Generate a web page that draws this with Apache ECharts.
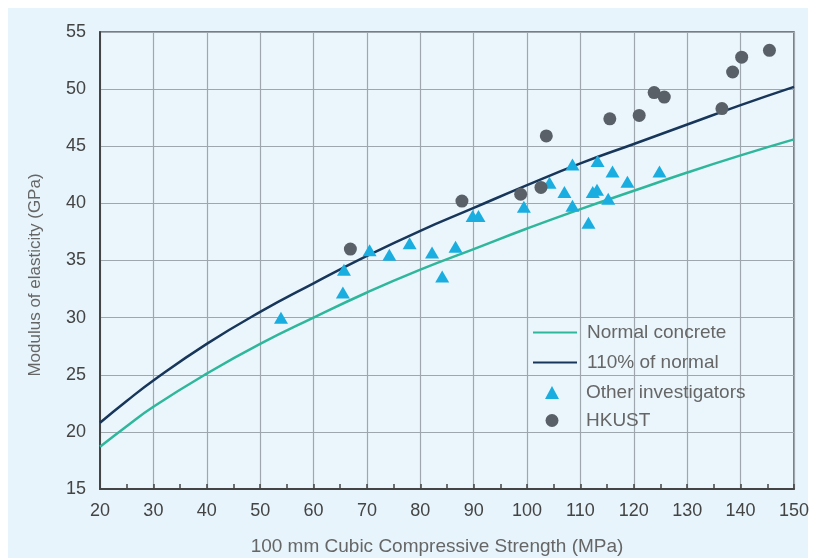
<!DOCTYPE html>
<html>
<head>
<meta charset="utf-8">
<script src="https://cdn.jsdelivr.net/npm/echarts@6/dist/echarts.min.js"></script>
<style>
html,body{margin:0;padding:0;background:#fff;}
#chart{width:817px;height:558px;}
</style>
</head>
<body>
<div id="chart"></div>
<script>
// Curve sample positions (MPa) and values (GPa)
var curveX = [20, 25, 30, 40, 50, 60, 70, 80, 90, 100, 110, 120, 130, 140, 150];
var normalConcrete = [18.7, 20.5, 22.2, 25.1, 27.7, 30.0, 32.2, 34.2, 36.0, 37.8, 39.5, 41.1, 42.7, 44.2, 45.6];
var normal110 = [20.8, 22.7, 24.5, 27.7, 30.5, 33.0, 35.4, 37.6, 39.6, 41.6, 43.5, 45.2, 46.9, 48.6, 50.2];

// Other investigators: strength (MPa), modulus (GPa)
var otherX = [53.9, 65.5, 65.7, 70.5, 74.2, 78.0, 82.2, 84.1, 86.6, 89.8, 90.9, 99.4, 104.2, 107.0, 108.5, 108.5, 111.5, 112.3, 113.1, 113.2, 115.2, 116.0, 118.8, 124.8];
var otherY = [30.0, 32.2, 34.2, 35.9, 35.5, 36.5, 35.7, 33.6, 36.2, 38.9, 38.9, 39.7, 41.8, 41.0, 43.4, 39.8, 38.3, 41.0, 41.2, 43.7, 40.4, 42.8, 41.9, 42.8];

// HKUST: strength (MPa), modulus (GPa)
var hkustX = [66.9, 87.8, 98.8, 102.6, 103.6, 115.5, 121.0, 123.8, 125.7, 136.5, 138.5, 140.2, 145.4];
var hkustY = [36.0, 40.2, 40.8, 41.4, 45.9, 47.4, 47.7, 49.7, 49.3, 48.3, 51.5, 52.8, 53.4];

var seriesNames = ['Normal concrete', '110% of normal', 'Other investigators', 'HKUST'];

function zip(a, b) { return a.map(function (v, i) { return [v, b[i]]; }); }

var chart = echarts.init(document.getElementById('chart'), null, {renderer: 'canvas'});
var FONT = '"Liberation Sans", Arial, sans-serif';
var labelFont = {fontFamily: FONT, fontSize: 18, color: '#444'};
var legendText = {fontFamily: FONT, fontSize: 19, color: '#666'};

chart.setOption({
  backgroundColor: '#ffffff',
  animation: false,
  graphic: [
    {type: 'rect', z: -10, silent: true, shape: {x: 8, y: 8, width: 800, height: 550}, style: {fill: '#e7f4fb'}},
    {type: 'text', z: 10, silent: true, x: 35, y: 275, rotation: Math.PI / 2,
      style: {text: 'Modulus of elasticity (GPa)', fill: '#666', font: '17px ' + FONT, align: 'center', verticalAlign: 'middle'}},
    {type: 'text', z: 10, silent: true, x: 437, y: 547,
      style: {text: '100 mm Cubic Compressive Strength (MPa)', fill: '#666', font: '19px ' + FONT, align: 'center', verticalAlign: 'middle'}}
  ],
  grid: {
    left: 100, right: 23, top: 32, bottom: 69,
    show: true, backgroundColor: '#eaf6fc', borderColor: '#555', borderWidth: 1.5
  },
  legend: [
    {
      orient: 'vertical', left: 532, top: 323, padding: 0,
      itemWidth: 44, itemHeight: 14, itemGap: 11,
      textStyle: Object.assign({padding: [0, 0, 0, 5]}, legendText),
      data: [
        {name: seriesNames[0], itemStyle: {opacity: 0}},
        {name: seriesNames[1], itemStyle: {opacity: 0}}
      ]
    },
    {
      orient: 'vertical', left: 545, top: 383, padding: 0,
      itemWidth: 14, itemHeight: 13, itemGap: 9,
      textStyle: Object.assign({padding: [0, 0, 0, 22]}, legendText),
      data: [
        {name: seriesNames[2], icon: 'triangle'},
        {name: seriesNames[3], icon: 'circle'}
      ]
    }
  ],
  xAxis: {
    type: 'value', min: 20, max: 150, interval: 10,
    axisLine: {show: true, onZero: false, lineStyle: {color: '#444', width: 2}},
    axisTick: {show: true, inside: true, length: 5, lineStyle: {color: '#444', width: 1.5}},
    minorTick: {show: true, splitNumber: 2, length: 5, lineStyle: {color: '#444', width: 1.5}},
    axisLabel: Object.assign({margin: 13}, labelFont),
    splitLine: {show: true, lineStyle: {color: '#9ea7ad', width: 1.2}}
  },
  yAxis: {
    type: 'value', min: 15, max: 55, interval: 5,
    axisLine: {show: true, onZero: false, lineStyle: {color: '#444', width: 2}},
    axisTick: {show: false},
    axisLabel: Object.assign({margin: 14}, labelFont),
    splitLine: {show: true, lineStyle: {color: '#9ea7ad', width: 1.2}}
  },
  series: [
    {
      name: seriesNames[0], type: 'line', smooth: true, symbol: 'none',
      data: zip(curveX, normalConcrete),
      lineStyle: {color: '#2fb79c', width: 2.5}, itemStyle: {color: '#2fb79c'}, z: 3
    },
    {
      name: seriesNames[1], type: 'line', smooth: true, symbol: 'none',
      data: zip(curveX, normal110),
      lineStyle: {color: '#17365a', width: 2.5}, itemStyle: {color: '#17365a'}, z: 3
    },
    {
      name: seriesNames[2], type: 'scatter', symbol: 'triangle', symbolSize: [14, 12],
      data: zip(otherX, otherY),
      itemStyle: {color: '#1aaee0', opacity: 1}, z: 4
    },
    {
      name: seriesNames[3], type: 'scatter', symbol: 'circle', symbolSize: 13,
      data: zip(hkustX, hkustY),
      itemStyle: {color: '#5a6067', opacity: 1}, z: 5
    }
  ]
});
</script>
</body>
</html>
